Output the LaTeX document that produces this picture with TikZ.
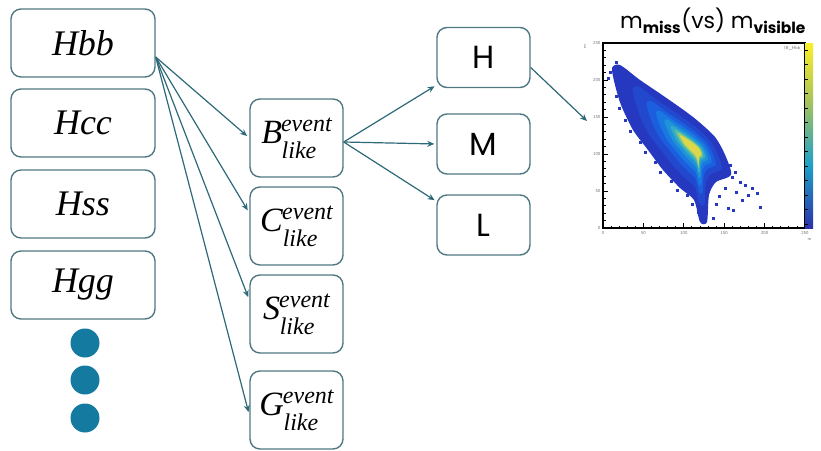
\documentclass[tikz,border=0pt]{standalone}
\usepackage{fontspec}
\setmainfont{Liberation Serif}
\newfontfamily\popp{Poppins}
\usetikzlibrary{arrows.meta,calc}
\definecolor{boxline}{RGB}{80,120,130}
\definecolor{arr}{RGB}{45,105,120}
\definecolor{dotc}{RGB}{20,122,160}
\definecolor{sc0}{RGB}{38,55,192}
\definecolor{sc1}{RGB}{33,72,205}
\definecolor{sc2}{RGB}{28,95,222}
\definecolor{sc3}{RGB}{25,120,225}
\definecolor{sc4}{RGB}{30,148,215}
\definecolor{sc5}{RGB}{50,170,200}
\definecolor{sc6}{RGB}{90,190,160}
\definecolor{sc7}{RGB}{150,205,115}
\definecolor{sc8}{RGB}{220,215,75}
\definecolor{cbtop}{RGB}{250,240,40}
\definecolor{cbup}{RGB}{170,195,90}
\definecolor{cblow}{RGB}{30,160,200}
\definecolor{cbbot}{RGB}{45,50,170}
\newcommand\evlab[1]{\textit{\fontsize{34}{34}\selectfont #1}\kern-1pt\textit{\fontsize{24}{24}\selectfont\raisebox{12pt}{event}\llap{\raisebox{-15pt}{\makebox[50pt][l]{like}}}}}
\begin{document}
\begin{tikzpicture}[x=1pt,y=-1pt,
  hbox/.style={draw=boxline, line width=1.4pt, rounded corners=10pt, minimum width=144pt, minimum height=68pt, fill=white, inner sep=2pt, font=\fontsize{36}{36}\selectfont\itshape},
  ebox/.style={draw=boxline, line width=1.4pt, rounded corners=10pt, minimum width=93pt, minimum height=78pt, inner sep=2pt},
  lbox/.style={draw=boxline, line width=1.4pt, rounded corners=10pt, minimum width=93pt, minimum height=60pt, inner sep=2pt, font=\popp\fontsize{32}{32}\selectfont},
  dotnode/.style={circle, fill=dotc, minimum size=29pt, inner sep=0pt},
  conn/.style={draw=arr, line width=1.2pt, -{Stealth[length=7pt,width=6pt]}},
  ticklab/.style={font=\sffamily\fontsize{4.5}{5}\selectfont, text=black!55, inner sep=0.5pt}
]
\useasboundingbox (0,0) rectangle (821,450);
% left boxes
\node[hbox] (Hbb) at (83,43) {Hbb};
\node[hbox] (Hcc) at (83,123) {Hcc};
\node[hbox] (Hss) at (83,204) {Hss};
\node[hbox] (Hgg) at (83,285) {Hgg};
\node[dotnode] (d1) at (85,343) {};
\node[dotnode] (d2) at (85,380) {};
\node[dotnode] (d3) at (85,418) {};
% event boxes
\node[ebox] (Bx) at (296.5,138) {\evlab{B}};
\node[ebox] (Cx) at (296.5,226) {\evlab{C}};
\node[ebox] (Sx) at (296.5,314) {\evlab{S}};
\node[ebox] (Gx) at (296.5,410) {\evlab{G}};
% level boxes
\node[lbox] (H) at (483.5,57.5) {H};
\node[lbox] (M) at (483.5,144) {M};
\node[lbox] (L) at (483.5,225) {L};
% connectors
\coordinate (hs) at ($(Hbb.east)+(0,14)$);
\draw[conn, shorten >=3pt] (hs) -- (Bx.west);
\draw[conn, shorten >=3pt] (hs) -- ($(Cx.west)+(0,-13)$);
\draw[conn, shorten >=3pt] (hs) -- ($(Sx.west)+(0,-14)$);
\draw[conn, shorten >=3pt] (hs) -- ($(Gx.west)+(0,5)$);
\coordinate (bs) at ($(Bx.east)+(0,4)$);
\draw[conn, shorten >=2pt] (bs) -- ($(H.south west)+(0,-3)$);
\draw[conn, shorten >=2pt] (bs) -- (M.west);
\draw[conn, shorten >=2pt] (bs) -- ($(L.north west)+(0,7)$);
\coordinate (ptgt) at (587,121);
\draw[conn] ($(H.east)+(0,10)$) -- (ptgt);
% title
\node[font=\popp\fontsize{22}{22}\selectfont, inner sep=0pt] (title) at (713,21) {m\textsubscript{\textbf{miss}}(vs) m\textsubscript{\textbf{visible}}};
% scatter: envelope and core
\foreach \x/\y [count=\i] in {612/68,620/65,640/80,665/97,693/117,715/137,726/157,731/175,716/182,709/195,707/222,700/222,694/200,680/188,663/170,648/150,633/130,621/105,615/85}
  \coordinate (e\i) at (\x,\y);
\foreach \x/\y [count=\i] in {681/136.5,683/137,687/139.5,691/142,695.5/145.5,699/149,700.5/152.5,700.5/155,699/156,698.5/158,698.5/163,698/163,697/157.5,695/154,692/151,689/148,686/145,683.5/141,681.5/138}
  \coordinate (c\i) at (\x,\y);
\foreach \t/\col in {0/sc0, 0.3/sc1, 0.5/sc2, 0.64/sc3, 0.76/sc4, 0.85/sc5, 0.91/sc6, 0.95/sc7, 0.985/sc8}{
  \foreach \i in {1,...,19} \coordinate (p\i) at ($(e\i)!\t!(c\i)$);
  \fill[\col] plot[smooth cycle, tension=0.45] coordinates {(p1) (p2) (p3) (p4) (p5) (p6) (p7) (p8) (p9) (p10) (p11) (p12) (p13) (p14) (p15) (p16) (p17) (p18) (p19)};
}
\foreach \x/\y in {616/96,619/108,625/120,630/131,640/142,645/152,655/162,660/172,671/181,677/190,687/195,692/204,698/212,740/182,745/185,752/188,757/193,748/195,742/200,760/207,728/208,733/210,713/218,725/188,722/173,732/177,610/72,608/78,616/62,719/196,716/204,736/192,730/165,735/172}
  \fill[sc0] (\x-1.5,\y-1.5) rectangle (\x+1.5,\y+1.5);
% frame and ticks
\draw[line width=1.3pt] (603,43) rectangle (805,228);
\foreach \i in {0,...,25}{
  \pgfmathsetmacro\yy{228-\i*7.4}
  \pgfmathsetmacro\xx{603+\i*8.08}
  \pgfmathsetmacro\tl{ifthenelse(mod(\i,5)==0,5,2.5)}
  \draw[line width=0.8pt] (603,\yy) -- ++(\tl,0);
  \draw[line width=0.8pt] (\xx,228) -- ++(0,-\tl);
}
\foreach \v [count=\k from 0] in {0,50,100,150,200,250}{
  \node[ticklab, anchor=east] (yl\k) at (601,228-\k*37) {\v};
  \node[ticklab, anchor=north] (xl\k) at (603+\k*40.4,231) {\v};
}
\node[ticklab, rotate=90, anchor=east] (ytitle) at (585,44) {m};
\node[ticklab, anchor=north east] (xtitle) at (812,238) {m};
\node[ticklab, anchor=north east] (leg) at (801,46) {lB\_Hbb};
% colour bar
\shade[top color=cbtop, bottom color=cbup] (805,43) rectangle (813,100);
\shade[top color=cbup, bottom color=cblow] (805,100) rectangle (813,165);
\shade[top color=cblow, bottom color=cbbot] (805,165) rectangle (813,228);
\foreach \i in {0,...,12}{
  \draw[line width=0.5pt] (805,{50+\i*14.5}) -- ++(2.5,0);
}
\end{tikzpicture}
\end{document}
